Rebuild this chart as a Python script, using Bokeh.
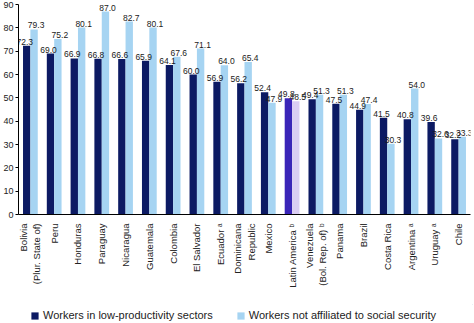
import math
from bokeh.plotting import figure
from bokeh.layouts import column
from bokeh.models import ColumnDataSource, FactorRange, Range1d, Legend, LegendItem, FixedTicker
from bokeh.transform import dodge
from bokeh.core.properties import value
from bokeh.embed import file_html
from bokeh.resources import INLINE

categories = [
    "Bolivia\n(Plur. State of)", "Peru", "Honduras", "Paraguay", "Nicaragua",
    "Guatemala", "Colombia", "El Salvador", "Ecuador ᵃ", "Dominicana\nRepublic",
    "Mexico", "Latin America ᵇ", "Venezuela\n(Bol. Rep. of) ᵇ", "Panama", "Brazil",
    "Costa Rica", "Argentina ᵃ", "Uruguay ᵃ", "Chile",
]
low_productivity = [72.3, 69.0, 66.9, 66.8, 66.6, 65.9, 64.1, 60.0, 56.9, 56.2,
                    52.4, 49.8, 49.4, 47.5, 44.9, 41.5, 40.8, 39.6, 32.2]
not_affiliated = [79.3, 75.2, 80.1, 87.0, 82.7, 80.1, 67.6, 71.1, 64.0, 65.4,
                  47.9, 48.5, 51.3, 51.3, 47.4, 30.3, 54.0, 32.6, 33.3]
series_names = ["Workers in low-productivity sectors", "Workers not affiliated to social security"]
y_ticks = [0, 10, 20, 30, 40, 50, 60, 70, 80, 90]

DARK, LIGHT = "#0c1a63", "#a6d4f2"
DARK_LA, LIGHT_LA = "#3a25b8", "#dacdf3"

dark_colors = [DARK_LA if c.startswith("Latin") else DARK for c in categories]
light_colors = [LIGHT_LA if c.startswith("Latin") else LIGHT for c in categories]

src = ColumnDataSource(dict(
    cat=categories, low=low_productivity, notaff=not_affiliated,
    low_lbl=[f"{v:.1f}" for v in low_productivity],
    notaff_lbl=[f"{v:.1f}" for v in not_affiliated],
    dc=dark_colors, lc=light_colors,
))

p = figure(x_range=FactorRange(*categories), y_range=Range1d(0, 90),
           frame_width=452, frame_height=210, output_backend="svg", toolbar_location=None,
           min_border_left=2, min_border_right=2, min_border_top=4, min_border_bottom=90)
p.outline_line_color = None
p.grid.grid_line_color = None
p.x_range.range_padding = 0.0

bw = 0.31
r1 = p.vbar(x=dodge("cat", -bw / 2, range=p.x_range), top="low", width=bw, source=src,
            fill_color="dc", line_color=None)
r2 = p.vbar(x=dodge("cat", bw / 2, range=p.x_range), top="notaff", width=bw, source=src,
            fill_color="lc", line_color=None)

lab_font = value("Liberation Sans")
p.text(x=dodge("cat", -bw / 2, range=p.x_range), y="low", text="low_lbl", source=src,
       text_align="center", text_baseline="bottom", y_offset=-1, x_offset=-2,
       text_font=lab_font, text_font_size="8.5px", text_color="#1a1a1a")
p.text(x=dodge("cat", bw / 2, range=p.x_range), y="notaff", text="notaff_lbl", source=src,
       text_align="center", text_baseline="bottom", y_offset=-1, x_offset=2,
       text_font=lab_font, text_font_size="8.5px", text_color="#1a1a1a")

p.yaxis.ticker = FixedTicker(ticks=y_ticks)
p.yaxis.major_label_text_font = "Liberation Sans"
p.yaxis.major_label_text_font_size = "9px"
p.yaxis.major_label_text_color = "#222222"
p.yaxis.major_tick_out = 3
p.yaxis.major_tick_in = 0
p.yaxis.minor_tick_line_color = None
p.yaxis.major_label_standoff = 2
p.yaxis.axis_line_color = "#000000"

p.xaxis.major_label_orientation = math.pi / 2
p.xaxis.major_label_text_font = "Liberation Sans"
p.xaxis.major_label_text_font_size = "9.5px"
p.xaxis.major_label_text_color = "#222222"
p.xaxis.major_tick_line_color = None
p.xaxis.major_label_standoff = 3
p.xaxis.axis_line_color = "#000000"

# legend strip below the chart (its swatch renderers sit outside the visible range)
lg = figure(width=474, height=19, output_backend="svg", toolbar_location=None,
            x_axis_type=None, y_axis_type=None, x_range=Range1d(0, 1), y_range=Range1d(0, 1),
            min_border_left=0, min_border_right=0, min_border_top=0, min_border_bottom=0)
lg.outline_line_color = None
lg.grid.grid_line_color = None
d1 = lg.vbar(x=[5], top=[5], bottom=[4], width=0.1, fill_color=DARK, line_color=None)
d2 = lg.vbar(x=[5], top=[5], bottom=[4], width=0.1, fill_color=LIGHT, line_color=None)
legend = Legend(items=[LegendItem(label=series_names[0], renderers=[d1]),
                       LegendItem(label=series_names[1], renderers=[d2])],
                orientation="horizontal", location=(12, 2),
                label_text_font="Liberation Sans", label_text_font_size="11px",
                label_text_color="#222222", label_height=10,
                glyph_width=9, glyph_height=9, spacing=23, padding=2, margin=0,
                border_line_color=None, background_fill_alpha=0, label_standoff=4)
lg.add_layout(legend, "center")

layout = column(p, lg, spacing=0)
open("out.html", "w").write(file_html(layout, INLINE))
